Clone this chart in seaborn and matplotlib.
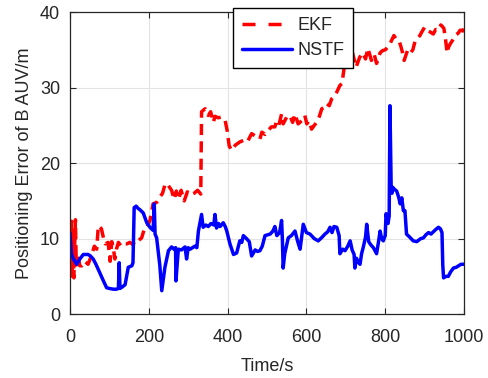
import numpy as np
import pandas as pd
import matplotlib
matplotlib.use('Agg')
import matplotlib.pyplot as plt
import seaborn as sns

sns.set_theme(style='whitegrid')
plt.rcParams['font.family'] = ['Liberation Sans', 'DejaVu Sans']

# EKF error (time s, error m)
ekf_t = [0, 2, 4, 6, 8, 10, 12, 14, 16, 20, 25, 30, 38, 46, 55, 62, 68, 72, 80, 85,
         90, 97, 102, 106, 110, 114, 118, 123, 130, 138, 144, 152, 160, 166, 173, 182,
         190, 196, 203, 211, 220, 228, 235, 242, 250, 258, 264, 270, 276, 282, 290,
         298, 306, 315, 324, 332, 334, 343, 351, 357, 364, 368, 376, 385, 394, 399,
         404, 410, 420, 431, 440, 450, 461, 470, 482, 487, 495, 503, 511, 520, 524,
         530, 537, 541, 550, 558, 565, 571, 579, 588, 596, 601, 607, 613, 620, 626,
         633, 639, 645, 651, 658, 664, 670, 677, 685, 690, 698, 704, 710, 717, 726,
         735, 743, 750, 756, 765, 772, 778, 787, 793, 800, 807, 813, 822, 828, 835,
         840, 844, 848, 857, 864, 870, 876, 883, 888, 892, 900, 906, 913, 922, 928,
         935, 941, 945, 949, 953, 957, 961, 965, 970, 975, 979, 985, 990, 997, 1000]
ekf_v = [10.5, 5.0, 12.3, 6.0, 11.0, 4.8, 9.0, 12.5, 6.5, 8.0, 6.4, 6.4, 7.0, 6.6, 7.8, 9.0, 8.6, 11.7, 11.3, 10.1,
         9.3, 9.5, 7.0, 9.6, 8.8, 7.3, 8.6, 9.5, 9.0, 9.3, 9.3, 9.5, 9.2, 9.8, 9.7, 10.1,
         11.5, 11.6, 12.4, 14.6, 14.8, 15.5, 16.0, 17.3, 17.0, 16.4, 15.2, 16.3, 15.2, 16.4, 15.0,
         16.2, 15.8, 16.0, 16.4, 15.9, 26.8, 27.2, 26.3, 26.8, 25.4, 26.2, 26.0, 26.1, 25.6, 24.3,
         22.3, 21.7, 22.4, 22.8, 23.0, 22.8, 23.9, 23.6, 23.2, 24.1, 23.8, 24.3, 24.8, 24.8, 25.5,
         25.0, 26.5, 25.2, 26.1, 26.3, 25.4, 26.5, 25.2, 25.6, 26.3, 25.2, 25.6, 24.5, 25.0, 25.4,
         26.2, 27.2, 27.4, 27.9, 27.6, 28.5, 28.8, 29.4, 30.3, 30.5, 33.4, 33.8, 33.2, 34.6, 32.7,
         34.0, 34.6, 33.8, 35.2, 33.6, 34.4, 33.2, 34.6, 34.9, 35.0, 35.4, 35.9, 36.9, 36.4, 36.2,
         35.4, 34.6, 33.6, 35.0, 34.6, 35.0, 36.2, 36.6, 36.9, 37.3, 38.0, 37.6, 37.4, 37.1, 37.7,
         37.6, 38.3, 38.1, 37.8, 36.4, 34.6, 35.4, 35.8, 36.2, 36.6, 37.0, 37.2, 37.6, 37.5, 38.4]

# NSTF error
nstf_t = [0, 4, 10, 17, 25, 34, 46, 52, 59, 66, 72, 78, 85, 93, 100, 110, 118, 123, 125, 127,
          133, 140, 148, 157, 160, 163, 168, 173, 178, 186, 195, 203, 211, 214, 216, 220,
          224, 228, 233, 241, 250, 258, 264, 268, 269, 275, 283, 292, 296, 300, 305, 317,
          322, 326, 334, 338, 345, 351, 358, 365, 368, 372, 377, 381, 389, 394, 398, 406,
          415, 423, 431, 436, 440, 448, 455, 461, 470, 476, 482, 488, 495, 508, 515, 520,
          525, 532, 537, 539, 541, 545, 554, 562, 571, 578, 584, 592, 600, 609, 620, 630,
          640, 647, 654, 660, 665, 670, 677, 683, 685, 692, 698, 705, 711, 716, 721, 723,
          727, 731, 736, 740, 744, 750, 753, 758, 763, 770, 778, 783, 787, 791, 795, 800,
          802, 807, 810, 812, 815, 817, 819, 824, 829, 834, 838, 842, 846, 850, 854, 862,
          871, 880, 890, 897, 903, 910, 916, 922, 928, 935, 940, 944, 946, 948, 954, 960,
          966, 973, 980, 986, 992, 1000]
nstf_v = [10.8, 7.9, 7.2, 6.6, 7.3, 7.9, 7.9, 7.7, 7.3, 6.6, 5.9, 5.2, 4.4, 3.5, 3.4, 3.3, 3.3, 3.4, 6.8, 3.4,
          3.6, 3.9, 6.2, 6.4, 6.8, 14.1, 14.3, 14.0, 13.8, 13.4, 12.1, 11.5, 11.1, 14.6, 10.6, 10.1,
          8.3, 6.5, 3.1, 6.2, 8.4, 8.9, 8.6, 8.8, 4.4, 8.6, 8.5, 8.9, 7.3, 8.8, 8.6, 9.0,
          8.8, 11.0, 13.2, 11.5, 11.8, 11.6, 12.0, 11.8, 13.2, 11.4, 12.0, 11.6, 12.1, 11.6, 11.0, 9.3,
          7.9, 8.1, 9.7, 9.5, 10.4, 10.0, 9.6, 7.7, 8.5, 8.3, 8.4, 9.0, 10.4, 10.6, 11.0, 11.6,
          10.4, 10.8, 12.4, 10.0, 6.1, 8.0, 10.1, 10.4, 11.0, 9.6, 8.6, 11.9, 10.8, 10.6, 10.0, 9.7,
          10.2, 10.6, 10.9, 11.5, 10.8, 11.6, 11.5, 10.4, 8.0, 8.6, 8.4, 9.0, 9.7, 8.5, 7.9, 6.1,
          7.4, 6.9, 6.6, 8.0, 8.8, 10.2, 11.9, 9.6, 9.2, 8.8, 8.0, 9.6, 11.0, 10.0, 9.7, 10.4,
          13.3, 12.0, 13.0, 27.6, 17.0, 16.0, 16.8, 16.5, 16.3, 15.5, 14.6, 15.4, 13.7, 13.7, 10.6, 10.2,
          9.7, 9.6, 10.0, 10.1, 10.5, 10.8, 10.6, 10.9, 11.2, 11.5, 11.3, 10.8, 6.5, 4.8, 5.0, 5.0,
          5.6, 6.1, 6.2, 6.4, 6.6, 6.6]

df_ekf = pd.DataFrame({'t': ekf_t, 'err': ekf_v})
df_nstf = pd.DataFrame({'t': nstf_t, 'err': nstf_v})

fig = plt.figure(figsize=(4.89, 3.78), dpi=100)
ax = fig.add_axes([0.143, 0.169, 0.806, 0.799])

sns.lineplot(data=df_ekf, x='t', y='err', ax=ax, color='#ff0000', lw=2.5,
             label='EKF', estimator=None, sort=False)
ax.lines[-1].set_dashes((3.2, 1.8))
sns.lineplot(data=df_nstf, x='t', y='err', ax=ax, color='#0000ff', lw=2.5,
             label='NSTF', estimator=None, sort=False)

ax.set_xlim(0, 1000)
ax.set_ylim(0, 40)
ax.set_xticks(np.arange(0, 1001, 200))
ax.set_yticks(np.arange(0, 41, 10))
ax.set_xlabel('Time/s', fontsize=13, color='#262626', labelpad=8)
ax.set_ylabel('Positioning Error of B AUV/m', fontsize=13, color='#262626', labelpad=5)
ax.grid(True, color='#e3e3e3', lw=0.8)
ax.tick_params(axis='both', which='both', direction='in', length=4, width=0.8,
               color='#262626', labelsize=13, labelcolor='#262626',
               top=True, right=True, bottom=True, left=True)
ax.tick_params(axis='x', pad=11)
ax.tick_params(axis='y', pad=7)
for s in ax.spines.values():
    s.set_color('#262626')
    s.set_linewidth(0.9)

leg = ax.legend(loc='upper left', bbox_to_anchor=(0.477, 0.978),
                bbox_transform=fig.transFigure, fontsize=13, frameon=True,
                fancybox=False, framealpha=1, edgecolor='black',
                handlelength=2.75, handletextpad=0.32, borderpad=0.48,
                labelspacing=0.45, borderaxespad=0)
leg.get_frame().set_linewidth(1.0)
leg.get_lines()[0].set_dashes((3.75, 3.75))

fig.savefig('out.png', dpi=100)
